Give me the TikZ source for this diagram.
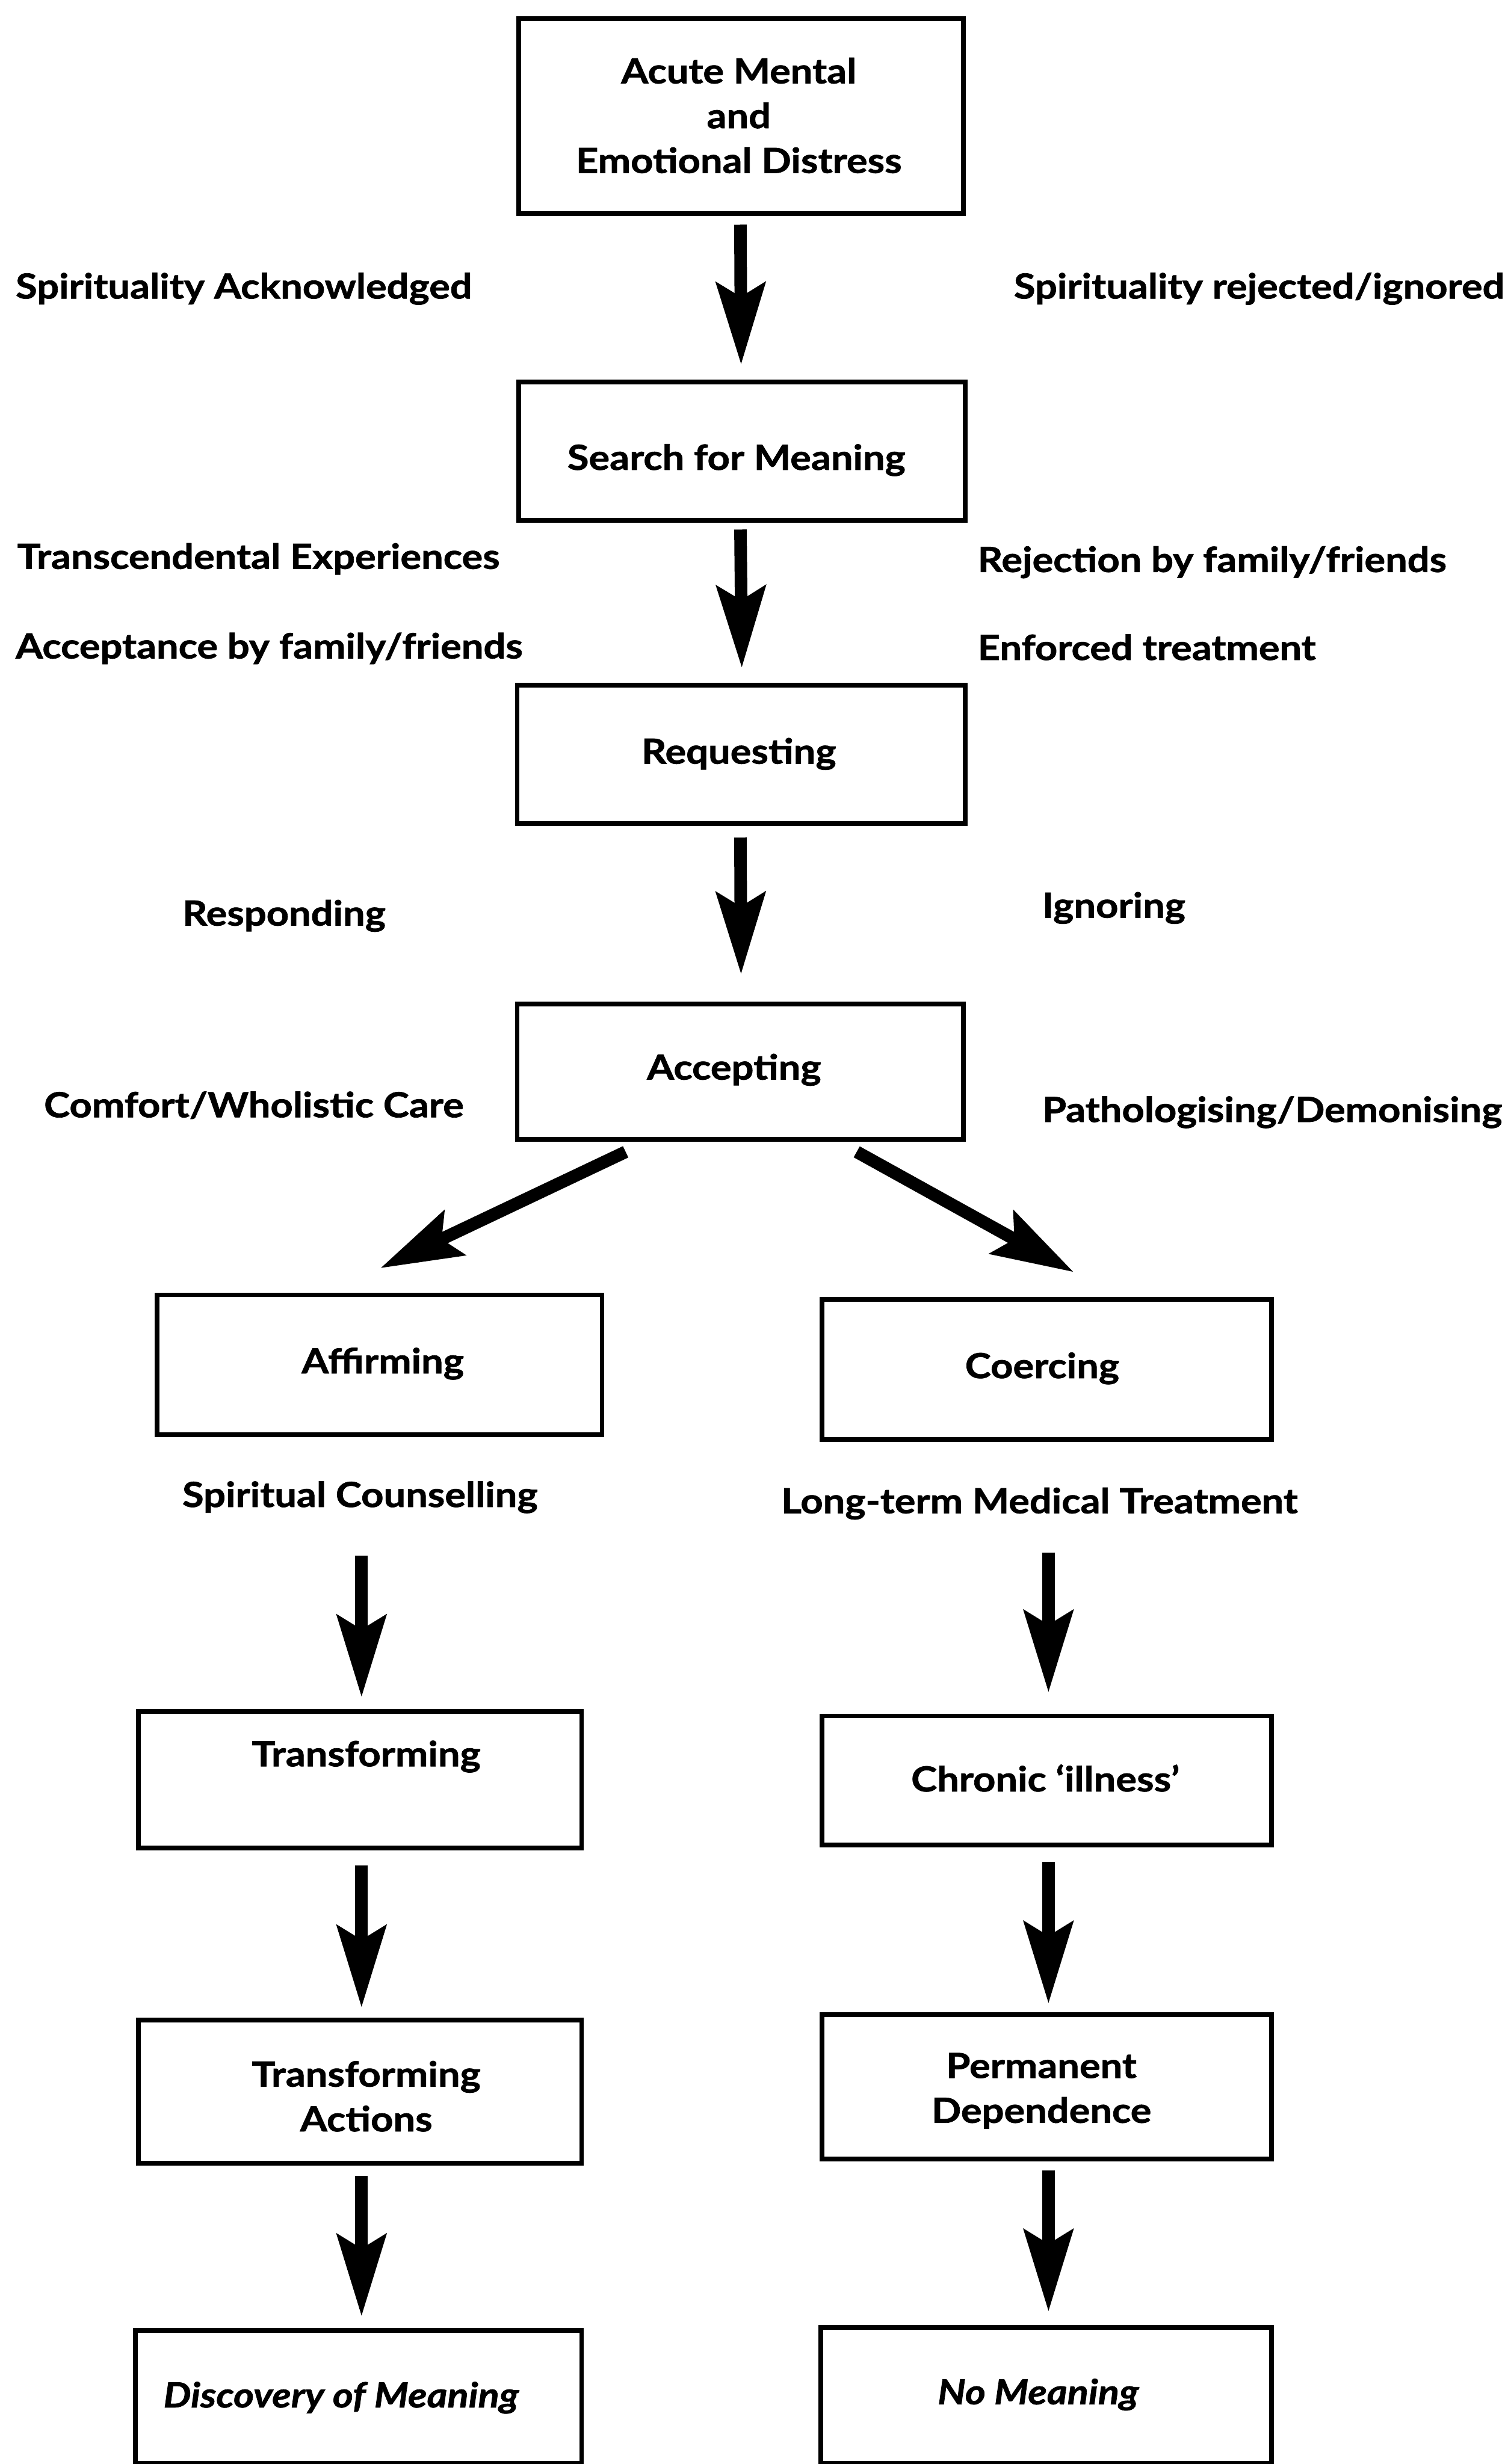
\documentclass[tikz,border=0pt]{standalone}
\usepackage{fontspec}
\setmainfont{Lato}[FakeStretch=1.13, BoldFeatures={FakeBold=1.3}, BoldItalicFeatures={FakeBold=1.3}]
\usetikzlibrary{arrows.meta}
\begin{document}
\begin{tikzpicture}[x=1pt,y=1pt,
  box/.style={draw, line width=3pt, inner sep=0pt, outer sep=0pt},
  txt/.style={font=\fontsize{22}{28.5}\selectfont\bfseries, inner sep=0pt, outer sep=0pt},
  lab/.style={txt, anchor=base west},
  btxt/.style={txt, anchor=base},
  mtxt/.style={txt, anchor=center, align=center},
  flow/.style={line width=8pt, -{Stealth[length=52pt,width=31pt,inset=9pt]}}]
\useasboundingbox (0,0) rectangle (959,1568);
\fill[white] (0,0) rectangle (959,1568);

% boxes
\node[box, minimum width=283pt, minimum height=124pt] (b1) at (471.5,1494) {};
\node[box, minimum width=284pt, minimum height=88pt] (b2) at (472,1281) {};
\node[box, minimum width=285pt, minimum height=88pt] (b3) at (471.5,1088) {};
\node[box, minimum width=284pt, minimum height=86pt] (b4) at (471,886) {};
\node[box, minimum width=283pt, minimum height=89pt] (b5) at (241.5,699.5) {};
\node[box, minimum width=286pt, minimum height=89pt] (b6) at (666,696.5) {};
\node[box, minimum width=282pt, minimum height=87pt] (b7) at (229,435.5) {};
\node[box, minimum width=286pt, minimum height=82pt] (b8) at (666,435) {};
\node[box, minimum width=282pt, minimum height=91pt] (b9) at (229,237) {};
\node[box, minimum width=286pt, minimum height=92pt] (b10) at (666,240) {};
\node[box, minimum width=284pt, minimum height=84.5pt] (b11) at (228,42.75) {};
\node[box, minimum width=287pt, minimum height=86.5pt] (b12) at (665.5,43.75) {};

% box texts
\node[mtxt] (t1) at (470,1494.5) {Acute Mental\\and\\Emotional Distress};
\node[btxt] (t2) at (468.5,1269) {Search for Meaning};
\node[btxt] (t3) at (470,1082) {Requesting};
\node[btxt] (t4) at (467,881) {Accepting};
\node[btxt] (t5) at (243.5,694) {Affirming};
\node[btxt] (t6) at (663,691) {Coercing};
\node[btxt] (t7) at (233,444) {Transforming};
\node[btxt] (t8) at (665,428) {Chronic ‘illness’};
\node[mtxt] (t9) at (233,234) {Transforming\\Actions};
\node[mtxt] (t10) at (662.5,237.5) {Permanent\\Dependence};
\node[btxt, font=\fontsize{22}{28.5}\selectfont\bfseries\itshape] (t11) at (217,36) {Discovery of Meaning};
\node[btxt, font=\fontsize{22}{28.5}\selectfont\bfseries\itshape] (t12) at (660.5,38) {No Meaning};

% side labels
\node[lab] (l1) at (10,1378) {Spirituality Acknowledged};
\node[lab] (r1) at (645,1378) {Spirituality rejected/ignored};
\node[lab] (l2) at (11,1206) {Transcendental Experiences};
\node[lab] (l3) at (10,1149) {Acceptance by family/friends};
\node[lab] (r2) at (622,1204) {Rejection by family/friends};
\node[lab] (r3) at (622,1148) {Enforced treatment};
\node[lab] (l4) at (116,979) {Responding};
\node[lab] (r4) at (663,984) {Ignoring};
\node[lab] (l5) at (28,857) {Comfort/Wholistic Care};
\node[lab] (r5) at (663,854) {Pathologising/Demonising};
\node[lab] (l6) at (116,609) {Spiritual Counselling};
\node[lab] (r6) at (497,605) {Long-term Medical Treatment};

% arrows
\draw[flow, shorten <=7pt, shorten >=11pt] ([xshift=-0.5pt]b1.south) -- (b1.south |- b2.north);
\draw[flow, shorten <=6pt, shorten >=11pt] ([xshift=-1pt]b2.south) -- (b2.south |- b3.north);
\draw[flow, shorten <=9pt, shorten >=19pt] ([xshift=-0.5pt]b3.south) -- (b3.south |- b4.north);
\draw[flow] ([xshift=-73pt,yshift=-8pt]b4.south) -- ([xshift=0.5pt,yshift=17pt]b5.north);
\draw[flow] ([xshift=74pt,yshift=-8pt]b4.south) -- ([xshift=17pt,yshift=17.5pt]b6.north);
\draw[flow, shorten <=77pt, shorten >=9pt] ([xshift=1pt]b7.north |- b5.south) -- ([xshift=1pt]b7.north);
\draw[flow, shorten <=72pt, shorten >=15pt] ([xshift=1pt]b8.north |- b6.south) -- ([xshift=1pt]b8.north);
\draw[flow, shorten <=11pt, shorten >=8pt] ([xshift=1pt]b7.south) -- ([xshift=1pt]b9.north);
\draw[flow, shorten <=11pt, shorten >=7pt] ([xshift=1pt]b8.south) -- ([xshift=1pt]b10.north);
\draw[flow, shorten <=8pt, shorten >=9pt] ([xshift=1pt]b9.south) -- ([xshift=2pt]b11.north);
\draw[flow, shorten <=7pt, shorten >=10pt] ([xshift=1pt]b10.south) -- ([xshift=1.5pt]b12.north);
\end{tikzpicture}
\end{document}
